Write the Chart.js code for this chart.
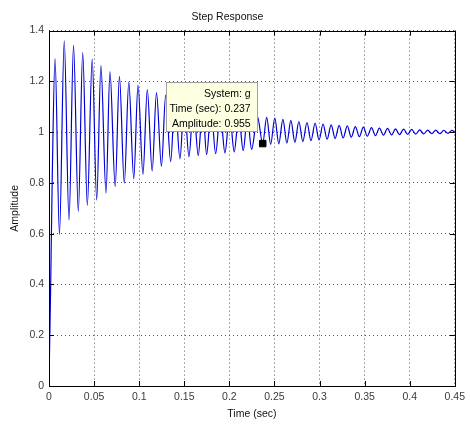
<!DOCTYPE html>
<html lang="en">
<head>
  <meta charset="UTF-8">
  <title>Step Response</title>
  <script src="https://cdn.jsdelivr.net/npm/chart.js"></script>
  <style>
    body { margin: 0; background: #fff; }
    #wrap { width: 470px; height: 426px; }
  </style>
</head>
<body>
  <div id="wrap"><canvas id="StepChart" width="470" height="426"></canvas></div>
  <script>
    // Peaks and troughs (time in sec, amplitude)
    const timeSec = [
      0, 0.0006, 0.0017, 0.0035, 0.0067, 0.0116, 0.0169, 0.0222, 0.0272, 0.0325,
      0.0374, 0.0425, 0.0479, 0.0529, 0.0576, 0.0632, 0.0676, 0.0734, 0.0781, 0.0835,
      0.0885, 0.0940, 0.0987, 0.1042, 0.1090, 0.1144, 0.1192, 0.1247, 0.1294, 0.1349,
      0.1397, 0.1452, 0.1500, 0.1552, 0.1602, 0.1655, 0.1704, 0.1748, 0.1798, 0.1848,
      0.1899, 0.1951, 0.2003, 0.2054, 0.2104, 0.2154, 0.2200, 0.2247, 0.2311, 0.2370,
      0.2414, 0.2458, 0.2504, 0.2548, 0.2594, 0.2638, 0.2682, 0.2727, 0.2771, 0.2815,
      0.2861, 0.2905, 0.2951, 0.2995, 0.3039, 0.3084, 0.3129, 0.3173, 0.3218, 0.3262,
      0.3308, 0.3352, 0.3397, 0.3442, 0.3486, 0.3530, 0.3576, 0.3620, 0.3664, 0.3709,
      0.3754, 0.3799, 0.3843, 0.3887, 0.3933, 0.3977, 0.4022, 0.4067, 0.4111, 0.4155,
      0.4201, 0.4245, 0.4290, 0.4334, 0.4379, 0.4424, 0.4469, 0.4500
    ];
    const amplitude = [
      0, 0.14, 0.36, 0.80, 1.290, 0.597, 1.360, 0.654, 1.342, 0.688,
      1.313, 0.712, 1.288, 0.733, 1.262, 0.760, 1.238, 0.785, 1.220, 0.799,
      1.197, 0.817, 1.185, 0.834, 1.168, 0.847, 1.156, 0.866, 1.146, 0.884,
      1.135, 0.895, 1.122, 0.903, 1.110, 0.908, 1.100, 0.912, 1.090, 0.915,
      1.080, 0.918, 1.072, 0.922, 1.065, 0.927, 1.060, 0.932, 1.062, 0.955,
      1.058, 0.952, 1.055, 0.954, 1.050, 0.957, 1.046, 0.960, 1.042, 0.963,
      1.038, 0.966, 1.035, 0.969, 1.032, 0.972, 1.029, 0.975, 1.027, 0.977,
      1.025, 0.980, 1.022, 0.982, 1.020, 0.984, 1.018, 0.986, 1.016, 0.988,
      1.015, 0.989, 1.013, 0.990, 1.012, 0.991, 1.011, 0.992, 1.009, 0.993,
      1.008, 0.994, 1.008, 0.994, 1.007, 0.995, 1.007, 1.000
    ];

    // Data tip
    const tipTime = 0.237;
    const tipAmp = 0.955;
    const tipLines = ['System: g', 'Time (sec): 0.237', 'Amplitude: 0.955'];

    // Axis ticks
    const xTicks = [0, 0.05, 0.1, 0.15, 0.2, 0.25, 0.3, 0.35, 0.4, 0.45];
    const xTickLabels = ['0', '0.05', '0.1', '0.15', '0.2', '0.25', '0.3', '0.35', '0.4', '0.45'];
    const yTicks = [0, 0.2, 0.4, 0.6, 0.8, 1, 1.2, 1.4];
    const yTickLabels = ['0', '0.2', '0.4', '0.6', '0.8', '1', '1.2', '1.4'];

    const FONT = 'Liberation Sans, Arial, sans-serif';

    // Solid box round the axes, inward tick marks, and the yellow data tip
    const frameAndTip = {
      id: 'frameAndTip',
      afterDatasetsDraw(chart) {
        const ctx = chart.ctx;
        const a = chart.chartArea;
        const xs = chart.scales.x, ys = chart.scales.y;
        ctx.save();
        ctx.strokeStyle = '#000';
        ctx.lineWidth = 1;
        ctx.beginPath();
        xTicks.forEach(v => {
          const px = Math.round(xs.getPixelForValue(v)) + 0.5;
          ctx.moveTo(px, a.bottom); ctx.lineTo(px, a.bottom - 5);
          ctx.moveTo(px, a.top); ctx.lineTo(px, a.top + 5);
        });
        yTicks.forEach(v => {
          const py = Math.round(ys.getPixelForValue(v)) + 0.5;
          ctx.moveTo(a.left, py); ctx.lineTo(a.left + 5, py);
          ctx.moveTo(a.right, py); ctx.lineTo(a.right - 5, py);
        });
        ctx.stroke();
        ctx.strokeRect(Math.round(a.left) + 0.5, Math.round(a.top) + 0.5,
          Math.round(a.right - a.left), Math.round(a.bottom - a.top));

        // data tip box, up and left of the marked point
        const px = xs.getPixelForValue(tipTime);
        const py = ys.getPixelForValue(tipAmp);
        const bx = Math.round(px - 97) + 0.5, by = Math.round(py - 62) + 0.5;
        ctx.fillStyle = '#ffffe1';
        ctx.fillRect(bx, by, 91, 49);
        ctx.strokeStyle = '#a0a0a0';
        ctx.strokeRect(bx, by, 91, 49);
        ctx.fillStyle = '#000';
        ctx.font = '10.5px ' + FONT;
        ctx.textAlign = 'right';
        ctx.textBaseline = 'middle';
        tipLines.forEach((t, i) => {
          ctx.fillText(t, px - 12, py - 49 + i * 15);
        });
        ctx.restore();
      }
    };

    new Chart(document.getElementById('StepChart'), {
      type: 'line',
      data: {
        datasets: [
          {
            label: 'marker',
            data: [{ x: tipTime, y: tipAmp }],
            showLine: false,
            pointStyle: 'rect',
            pointRadius: 4.6,
            pointBackgroundColor: '#000',
            pointBorderColor: '#000',
            order: 0
          },
          {
            label: 'g',
            data: timeSec.map((t, i) => ({ x: t, y: amplitude[i] })),
            borderColor: '#0000d8',
            borderWidth: 1.2,
            pointRadius: 0,
            cubicInterpolationMode: 'monotone',
            order: 1
          }
        ]
      },
      options: {
        responsive: false,
        animation: false,
        devicePixelRatio: 1,
        layout: { padding: { left: 0, right: 15, top: 0, bottom: 0 } },
        plugins: {
          legend: { display: false },
          tooltip: { enabled: false },
          title: {
            display: true,
            text: 'Step Response',
            color: '#111',
            font: { family: FONT, size: 10.5, weight: 'normal' },
            padding: { top: 11, bottom: 7 }
          }
        },
        scales: {
          x: {
            type: 'linear',
            min: 0,
            max: 0.45,
            afterBuildTicks: s => { s.ticks = xTicks.map(v => ({ value: v })); },
            afterFit: s => { s.height = 40; },
            ticks: {
              callback: (v, i) => xTickLabels[i],
              color: '#3a3a3a',
              font: { family: FONT, size: 10.5 },
              padding: 5,
              maxRotation: 0
            },
            grid: { color: '#555', lineWidth: 1, drawTicks: false, borderDash: [1, 3] },
            border: { display: false, dash: [1, 3] },
            title: {
              display: true,
              text: 'Time (sec)',
              color: '#111',
              font: { family: FONT, size: 10.5 },
              padding: { top: 0, bottom: 6 }
            }
          },
          y: {
            min: 0,
            max: 1.4,
            afterBuildTicks: s => { s.ticks = yTicks.map(v => ({ value: v })); },
            afterFit: s => { s.width = 49; },
            ticks: {
              callback: (v, i) => yTickLabels[i],
              color: '#3a3a3a',
              font: { family: FONT, size: 10.5 },
              padding: 5
            },
            grid: { color: '#555', lineWidth: 1, drawTicks: false, borderDash: [1, 3] },
            border: { display: false, dash: [1, 3] },
            title: {
              display: true,
              text: 'Amplitude',
              color: '#111',
              font: { family: FONT, size: 10.5 },
              padding: { top: 9, bottom: 0 }
            }
          }
        }
      },
      plugins: [frameAndTip]
    });
  </script>
</body>
</html>
